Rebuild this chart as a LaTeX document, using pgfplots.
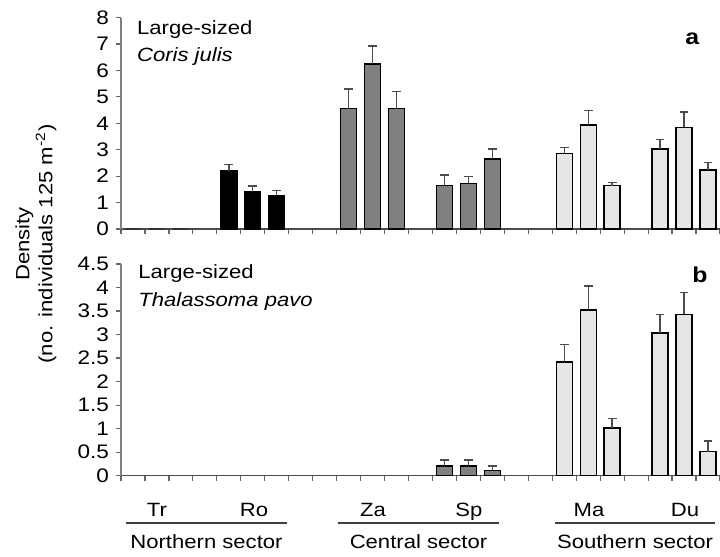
\documentclass[border=0pt]{standalone}
\usepackage{fontspec}
\setmainfont{Liberation Sans}[FakeStretch=1.15]
\usepackage{pgfplots}
\pgfplotsset{compat=1.18}
\definecolor{midgray}{HTML}{808080}
\definecolor{lightgray}{HTML}{E6E6E6}
\pgfplotsset{
  mybar/.style={ybar, bar width=8pt, bar shift=0pt, draw=black, line width=0.7pt,
    error bars/y dir=plus, error bars/y explicit,
    error bars/error bar style={line width=0.7pt, black!70},
    error bars/error mark options={rotate=90, mark size=2.2pt, line width=0.7pt, black!70}},
  panel/.style={
    scale only axis, width=299.5pt, xmin=0, xmax=25, ymin=0,
    axis lines*=left, clip=false,
    xtick={0,...,25}, xticklabels={}, tick align=outside, major tick length=2.5pt,
    tick style={black!60, line width=0.6pt},
    y axis line style={black!50, line width=0.7pt},
    x axis line style={black!70, line width=0.8pt},
    tick label style={font=\fontsize{9.8}{11.5}\selectfont},
    /pgf/number format/assume math mode=true,
    ytick pos=left, xtick pos=bottom,
  }
}
\begin{document}
\begin{tikzpicture}
\useasboundingbox (0,0) rectangle (360pt,278.5pt);
% top panel
\begin{axis}[panel, at={(60.5pt,164pt)}, anchor=south west, height=105.7pt,
  ymax=8, ytick={0,1,...,8}]
\addplot[ybar, bar width=8pt, bar shift=0pt, draw=black!80, fill=black!80, line width=0.7pt]
  coordinates {(0.5,0) (1.5,0) (2.5,0)};
\addplot[mybar, fill=black] coordinates {
  (4.5,2.2) +- (0,0.25)
  (5.5,1.4) +- (0,0.22)
  (6.5,1.25) +- (0,0.2)};
\addplot[mybar, fill=midgray] coordinates {
  (9.5,4.55) +- (0,0.75)
  (10.5,6.25) +- (0,0.68)
  (11.5,4.55) +- (0,0.65)
  (13.5,1.65) +- (0,0.4)
  (14.5,1.73) +- (0,0.26)
  (15.5,2.65) +- (0,0.38)};
\addplot[mybar, fill=lightgray] coordinates {
  (18.5,2.85) +- (0,0.24)
  (19.5,3.93) +- (0,0.56)
  (20.5,1.64) +- (0,0.12)
  (22.5,3.03) +- (0,0.35)
  (23.5,3.85) +- (0,0.58)
  (24.5,2.23) +- (0,0.29)};
\end{axis}
% bottom panel
\begin{axis}[panel, at={(60.5pt,40.65pt)}, anchor=south west, height=105.85pt,
  ymax=4.5, ytick={0,0.5,...,4.5}]
\addplot[mybar, fill=midgray] coordinates {
  (13.5,0.21) +- (0,0.12)
  (14.5,0.21) +- (0,0.12)
  (15.5,0.11) +- (0,0.1)};
\addplot[mybar, fill=lightgray] coordinates {
  (18.5,2.42) +- (0,0.37)
  (19.5,3.52) +- (0,0.51)
  (20.5,1.01) +- (0,0.2)
  (22.5,3.03) +- (0,0.4)
  (23.5,3.43) +- (0,0.47)
  (24.5,0.51) +- (0,0.23)};
\end{axis}
\begin{scope}[every node/.style={font=\fontsize{9.6}{11.5}\selectfont, inner sep=0pt}]
% panel texts
\node[anchor=base west] at (68.35pt,261.35pt) {Large-sized};
\node[anchor=base west] at (68.35pt,247.65pt) {\itshape Coris julis};
\node[anchor=base west] at (69pt,139.35pt) {Large-sized};
\node[anchor=base west] at (69pt,125.15pt) {\itshape Thalassoma pavo};
\node[anchor=base west, font=\fontsize{10.8}{12}\selectfont\bfseries] at (342.5pt,256pt) {a};
\node[anchor=base west, font=\fontsize{10.8}{12}\selectfont\bfseries] at (346pt,137pt) {b};
% y label
\node[rotate=90, align=center, font=\fontsize{9.6}{11.5}\selectfont] at (18pt,156.5pt)
  {Density\\(no. individuals 125 m\textsuperscript{-2})};
% site labels
\node[anchor=base] at (78.5pt,20.15pt) {Tr};
\node[anchor=base] at (127pt,20.15pt) {Ro};
\node[anchor=base] at (186.5pt,20.15pt) {Za};
\node[anchor=base] at (234.5pt,20.15pt) {Sp};
\node[anchor=base] at (294.5pt,20.15pt) {Ma};
\node[anchor=base] at (342.5pt,20.15pt) {Du};
% sector lines
\draw[black!75, line width=1pt] (63pt,16.85pt) -- (143.5pt,16.85pt);
\draw[black!75, line width=1pt] (169pt,16.85pt) -- (249.5pt,16.85pt);
\draw[black!75, line width=1pt] (277.5pt,16.85pt) -- (357.5pt,16.85pt);
\node[anchor=base] at (103.25pt,4.35pt) {Northern sector};
\node[anchor=base] at (209.25pt,4.35pt) {Central sector};
\node[anchor=base] at (317.5pt,4.35pt) {Southern sector};
\end{scope}
\end{tikzpicture}
\end{document}
